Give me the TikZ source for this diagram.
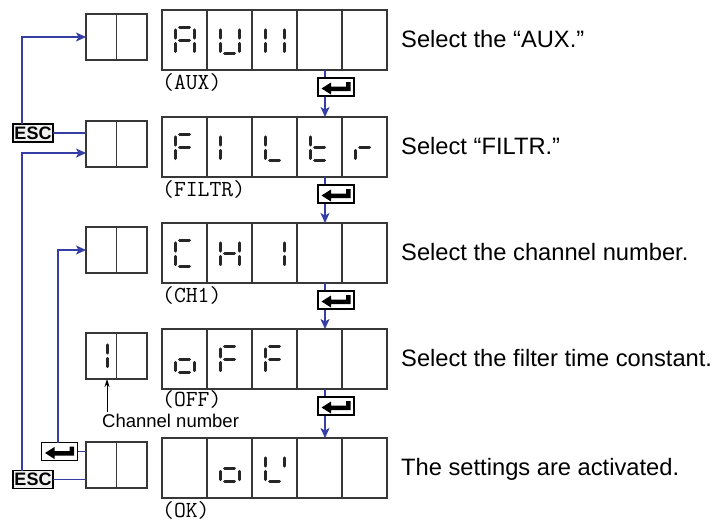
\documentclass[tikz,border=0pt]{standalone}
\usepackage{fontspec}
\setmainfont{Liberation Sans}
\usetikzlibrary{arrows.meta,calc}
\definecolor{bl}{RGB}{52,62,165}
\definecolor{bx}{RGB}{55,55,55}
\newcommand\dg[3]{\foreach \s in {#3}{\pic at (#1,#2) {s\s};}}
\newcommand\entsym[1]{\fill[black,shift={(#1.center)}] (-14.5,1.5) -- (-5,-4.5) -- (-5,-0.5) -- (10,-0.5) -- (10,-5) -- (14.5,-5) -- (14.5,4) -- (-5,4) -- (-5,7.5) -- cycle;}
\begin{document}
\begin{tikzpicture}[x=1pt,y=-1pt,
 boxl/.style={draw=bx, line width=1.1pt},
 mainbox/.style={boxl, rectangle, minimum width=225pt, minimum height=60pt, inner sep=0pt, outer sep=0pt, anchor=north west},
 smallbox/.style={boxl, rectangle, minimum width=61pt, minimum height=46pt, inner sep=0pt, outer sep=0pt, anchor=north west},
 entbox/.style={draw=black, line width=1.2pt, fill=white, minimum width=36pt, minimum height=18pt, inner sep=0pt, outer sep=0pt},
 escbox/.style={draw=black, line width=1.3pt, fill=black!6, minimum width=40pt, minimum height=18pt, inner sep=0pt, outer sep=0pt, font=\fontsize{18}{18}\selectfont\bfseries},
 blu/.style={draw=bl, line width=1.4pt},
 barr/.style={blu, -{Stealth[length=10pt,width=9pt,inset=2.5pt]}},
 seg/.style={line width=3pt, line cap=round, draw=black!85},
 desc/.style={anchor=base west, inner sep=0pt, font=\fontsize{23.7}{26}\selectfont},
 lbl/.style={anchor=base west, inner sep=0pt, font=\ttfamily\fontsize{23}{26}\selectfont},
 sa/.pic={\draw[seg] (-5,-12.7)--(5,-12.7);},
 sb/.pic={\draw[seg] (9.5,-10.6)--(9.5,-2.4);},
 sc/.pic={\draw[seg] (9.5,2.8)--(9.5,11);},
 sd/.pic={\draw[seg] (-5,12.9)--(5,12.9);},
 se/.pic={\draw[seg] (-9.5,2.8)--(-9.5,11);},
 sf/.pic={\draw[seg] (-9.5,-10.6)--(-9.5,-2.4);},
 sg/.pic={\draw[seg] (-5,0.3)--(5,0.3);},
]
\useasboundingbox (0,0) rectangle (719,523);
% boxes
\foreach \i/\t in {1/10,2/117,3/223,4/329,5/438}{
  \node[mainbox] (m\i) at (162,\t) {};
  \node[smallbox] (s\i) at (86,\t+4) {};
  \foreach \k in {1,2,3,4}{\draw[boxl] (m\i.north west) ++(45*\k,0) -- ++(0,60);}
  \draw[boxl] (s\i.north west) ++(30.5,0) -- ++(0,46);
}
% labels
\node[lbl] (l1) at ($(m1.south west)+(0,19)$) {(AUX)};
\node[lbl] (l2) at ($(m2.south west)+(0,19)$) {(FILTR)};
\node[lbl] (l3) at ($(m3.south west)+(0,19)$) {(CH1)};
\node[lbl] (l4) at ($(m4.south west)+(0,17)$) {(OFF)};
\node[lbl] (l5) at ($(m5.south west)+(0,19)$) {(OK)};
% descriptions
\node[desc] (d1) at (401,47.5) {Select the “AUX.”};
\node[desc] (d2) at (401,154.5) {Select “FILTR.”};
\node[desc] (d3) at (401,260.5) {Select the channel number.};
\node[desc] (d4) at (401,366.5) {Select the filter time constant.};
\node[desc] (d5) at (401,475.5) {The settings are activated.};
% digits
\dg{184.5}{40.5}{a,b,c,e,f,g}
\dg{229.5}{40.5}{b,c,d,e,f}
\dg{274.5}{40.5}{b,c,e,f}
\dg{184.5}{147.5}{a,e,f,g}
\dg{229.5}{147.5}{e,f}
\dg{274.5}{147.5}{d,e,f}
\dg{319.5}{147.5}{d,e,f,g}
\dg{364.5}{147.5}{e,g}
\dg{184.5}{253.5}{a,d,e,f}
\dg{229.5}{253.5}{b,c,e,f,g}
\dg{274.5}{253.5}{b,c}
\dg{184.5}{359.5}{c,d,e,g}
\dg{229.5}{359.5}{a,e,f,g}
\dg{274.5}{359.5}{a,e,f,g}
\dg{229.5}{468.5}{c,d,e,g}
\dg{274.5}{468.5}{b,d,e,f}
\dg{97.5}{355.5}{b,c}
% step arrows with enter keys
\coordinate (xC) at (325,0);
\foreach \i/\j in {1/2,2/3,3/4,4/5}{
  \draw[barr] (m\i.south -| xC) -- (m\j.north -| xC);
  \node[entbox] (e\i) at ($(m\i.south -| xC)+(11,17)$) {};
  \entsym{e\i}
}
% left side
\coordinate (xA) at (22,0);
\coordinate (xB) at (58,0);
\node[escbox] (esc1) at (33,133) {ESC};
\node[escbox] (esc2) at (33,479.5) {ESC};
\node[entbox] (e0) at (59.5,451.5) {};
\entsym{e0}
\draw[barr] (esc1.north -| xA) |- (s1.west);
\draw[blu] (esc1.east) -- (esc1.east -| s2.west);
\draw[barr] (esc2.north -| xA) |- ($(s2.west)+(0,9)$);
\draw[blu] (esc2.east) -- (esc2.east -| s5.west);
\draw[barr] (e0.north -| xB) |- (s3.west);
\draw[blu] (e0.east) -- (e0.east -| s5.west);
% channel number
\node[anchor=base west, inner sep=2pt, font=\fontsize{18.5}{20}\selectfont] (cn) at (100,427.5) {Channel number};
\coordinate (cd) at (107,0);
\draw[line width=0.9pt, -{Stealth[length=8pt,width=5pt]}] (cn.north -| cd) -- (s4.south -| cd);
\end{tikzpicture}
\end{document}
